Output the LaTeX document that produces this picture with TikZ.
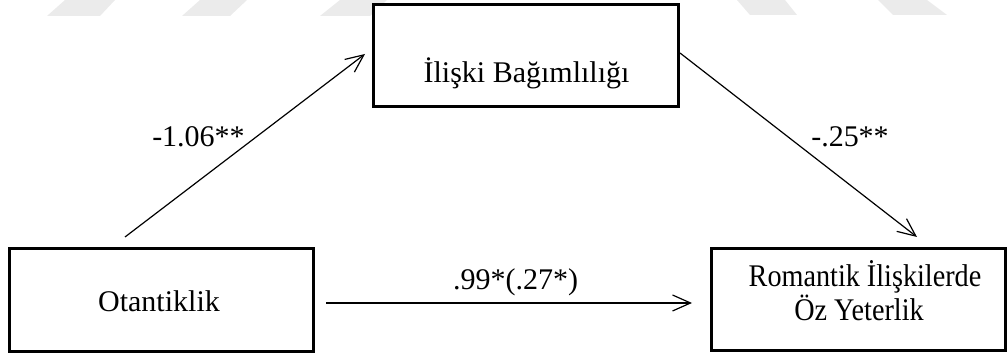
\documentclass[tikz,border=0pt]{standalone}
\usepackage{fontspec}
\setmainfont{Liberation Serif}
\usetikzlibrary{arrows.meta}
\begin{document}
\begin{tikzpicture}[x=0.5pt,y=-0.5pt,
  box/.style={draw=black,line width=1.5pt,fill=white,inner sep=0pt},
  txt/.style={anchor=base,inner sep=0pt,font=\fontsize{15}{18}\selectfont},
  arr/.style={draw=black,line width=0.6pt,-{Straight Barb[length=9pt,width=8pt,line width=0.6pt]}},
  wm/.style={fill=black!8,draw=none}]
\useasboundingbox (0,0) rectangle (1008,356);
% faint watermark
\fill[wm] (65,0) -- (115,0) -- (100,16) -- (47,16) -- cycle;
\fill[wm] (200,0) -- (247,0) -- (230,16) -- (182,16) -- cycle;
\fill[wm] (340,0) -- (387,0) -- (370,16) -- (320,16) -- cycle;
\fill[wm] (737,0) -- (785,0) -- (797,15) -- (750,15) -- cycle;
\fill[wm] (878,0) -- (927,0) -- (947,15) -- (893,15) -- cycle;
% boxes
\node[box,minimum width=152.5pt,minimum height=51pt] (ib) at (525.5,56) {};
\node[box,minimum width=152pt,minimum height=51.5pt] (ot) at (161,300.5) {};
\node[box,minimum width=147pt,minimum height=51pt] (rm) at (858,300) {};
% texts
\node[txt] (ibt) at (526.5,83) {İlişki Bağımlılığı};
\node[txt] (ott) at (159,312) {Otantiklik};
\node[txt] (rmt1) at (865,287) {\scalebox{0.94}[1.05]{Romantik İlişkilerde}};
\node[txt] (rmt2) at (859,321) {\scalebox{0.94}[1.05]{Öz Yeterlik}};
% connector ends
\coordinate (a1s) at (125,237);
\coordinate (a1e) at (365,54);
\coordinate (a2s) at (680,53);
\coordinate (a2e) at (917,237);
\coordinate (a3s) at (326,303);
\coordinate (a3e) at (692,303);
\draw[arr] (a1s) -- (a1e);
\draw[arr] (a2s) -- (a2e);
\draw[arr] (a3s) -- (a3e);
% labels
\node[txt] (l1) at (198.5,147) {-1.06**};
\node[txt] (l2) at (850,147) {-.25**};
\node[txt] (l3) at (515.5,290) {.99*(.27*)};
\end{tikzpicture}
\end{document}
